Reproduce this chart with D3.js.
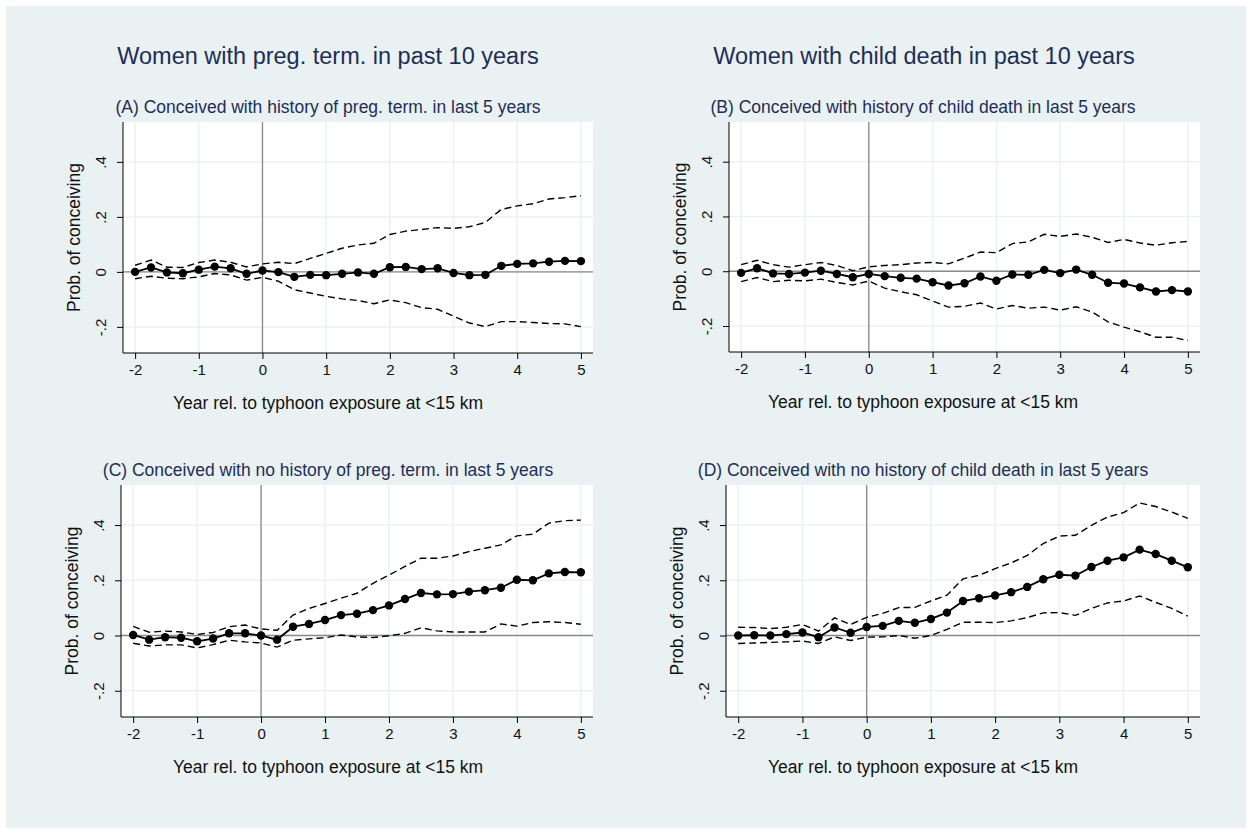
<!DOCTYPE html>
<html>
<head>
<meta charset="utf-8">
<script src="https://cdn.jsdelivr.net/npm/d3@7"></script>
<style>
  body { margin: 0; background: #fff; }
  svg { display: block; font-family: "Liberation Sans", Arial, sans-serif; }
</style>
</head>
<body>
<svg id="chart" width="1252" height="834"></svg>
<script>
// event time, quarters from -2 to 5 years
var years = [-2, -1.75, -1.5, -1.25, -1, -0.75, -0.5, -0.25, 0, 0.25, 0.5, 0.75, 1, 1.25, 1.5,
  1.75, 2, 2.25, 2.5, 2.75, 3, 3.25, 3.5, 3.75, 4, 4.25, 4.5, 4.75, 5];

// (A) history of preg. term.
var estA = [0, 0.016, -0.002, -0.005, 0.008, 0.019, 0.013, -0.007, 0.005, -0.001, -0.018, -0.011, -0.012, -0.007, -0.002,
  -0.007, 0.017, 0.018, 0.010, 0.013, -0.004, -0.012, -0.011, 0.022, 0.029, 0.031, 0.037, 0.040, 0.039];
var hiA = [0.024, 0.043, 0.017, 0.016, 0.034, 0.043, 0.035, 0.018, 0.029, 0.035, 0.030, 0.049, 0.067, 0.086, 0.098,
  0.104, 0.136, 0.148, 0.154, 0.161, 0.158, 0.164, 0.180, 0.227, 0.240, 0.248, 0.265, 0.270, 0.277];
var loA = [-0.025, -0.016, -0.023, -0.025, -0.018, -0.006, -0.011, -0.030, -0.020, -0.034, -0.065, -0.077, -0.089, -0.098, -0.104,
  -0.116, -0.102, -0.112, -0.130, -0.136, -0.161, -0.186, -0.199, -0.181, -0.181, -0.184, -0.188, -0.189, -0.199];

// (B) history of child death
var estB = [-0.006, 0.011, -0.008, -0.010, -0.005, 0.002, -0.010, -0.022, -0.010, -0.018, -0.024, -0.027, -0.040, -0.052, -0.044,
  -0.019, -0.035, -0.012, -0.013, 0.005, -0.007, 0.006, -0.013, -0.042, -0.045, -0.059, -0.074, -0.069, -0.074];
var hiB = [0.024, 0.040, 0.024, 0.015, 0.024, 0.032, 0.021, 0.002, 0.016, 0.021, 0.024, 0.030, 0.032, 0.027, 0.048,
  0.070, 0.068, 0.101, 0.107, 0.135, 0.127, 0.136, 0.124, 0.105, 0.116, 0.103, 0.095, 0.104, 0.109];
var loB = [-0.038, -0.023, -0.038, -0.033, -0.035, -0.029, -0.041, -0.050, -0.036, -0.062, -0.075, -0.086, -0.109, -0.131, -0.128,
  -0.116, -0.138, -0.125, -0.135, -0.131, -0.142, -0.130, -0.149, -0.185, -0.204, -0.221, -0.241, -0.241, -0.253];

// (C) no history of preg. term.
var estC = [0.002, -0.015, -0.006, -0.008, -0.021, -0.011, 0.008, 0.008, 0, -0.015, 0.032, 0.042, 0.056, 0.074, 0.079,
  0.092, 0.109, 0.132, 0.154, 0.149, 0.150, 0.159, 0.164, 0.173, 0.202, 0.200, 0.225, 0.230, 0.229];
var hiC = [0.033, 0.012, 0.016, 0.013, 0.004, 0.011, 0.032, 0.038, 0.024, 0.019, 0.074, 0.098, 0.116, 0.135, 0.153,
  0.189, 0.219, 0.250, 0.280, 0.280, 0.288, 0.304, 0.316, 0.328, 0.361, 0.367, 0.407, 0.416, 0.418];
var loC = [-0.028, -0.038, -0.034, -0.034, -0.045, -0.033, -0.017, -0.023, -0.027, -0.042, -0.017, -0.012, -0.008, 0.002, -0.005,
  -0.007, -0.001, 0.008, 0.028, 0.017, 0.013, 0.013, 0.013, 0.042, 0.034, 0.047, 0.050, 0.047, 0.041];

// (D) no history of child death
var estD = [0, 0.001, 0, 0.005, 0.011, -0.006, 0.029, 0.010, 0.031, 0.035, 0.053, 0.046, 0.060, 0.083, 0.125,
  0.135, 0.145, 0.157, 0.176, 0.204, 0.220, 0.217, 0.248, 0.271, 0.283, 0.311, 0.295, 0.271, 0.247];
var hiD = [0.030, 0.029, 0.025, 0.030, 0.040, 0.016, 0.064, 0.040, 0.066, 0.080, 0.101, 0.102, 0.125, 0.146, 0.205,
  0.218, 0.242, 0.263, 0.290, 0.333, 0.360, 0.363, 0.399, 0.429, 0.445, 0.480, 0.467, 0.447, 0.424];
var loD = [-0.029, -0.027, -0.025, -0.023, -0.020, -0.029, -0.005, -0.018, -0.006, -0.005, 0, -0.010, 0, 0.022, 0.048,
  0.048, 0.047, 0.053, 0.065, 0.082, 0.083, 0.073, 0.098, 0.118, 0.125, 0.143, 0.120, 0.098, 0.070];

var colTitles = ["Women with preg. term. in past 10 years", "Women with child death in past 10 years"];
var subtitles = ["(A) Conceived with history of preg. term. in last 5 years",
  "(B) Conceived with history of child death in last 5 years",
  "(C) Conceived with no history of preg. term. in last 5 years",
  "(D) Conceived with no history of child death in last 5 years"];
var xTicks = [-2, -1, 0, 1, 2, 3, 4, 5];
var yTicks = [-0.2, 0, 0.2, 0.4];
var xTitle = "Year rel. to typhoon exposure at <15 km";
var yTitle = "Prob. of conceiving";

var panels = [
  {est: estA, lo: loA, hi: hiA, x0: 123, x1: 593, y0: 122, y1: 353},
  {est: estB, lo: loB, hi: hiB, x0: 729, x1: 1200, y0: 122, y1: 352},
  {est: estC, lo: loC, hi: hiC, x0: 121, x1: 593, y0: 485, y1: 717},
  {est: estD, lo: loD, hi: hiD, x0: 726, x1: 1200, y0: 485, y1: 717}
];

var bg = "#e9f1f3";
var navy = "#1f2e55";
var ink = "#111";
var svg = d3.select("#chart");
svg.append("rect").attr("x", 6).attr("y", 6).attr("width", 1240).attr("height", 822).attr("fill", bg);

// column titles
[328, 924].forEach(function(cx, i) {
  svg.append("text").attr("x", cx).attr("y", 64).attr("text-anchor", "middle")
    .style("font-size", "23.5px").style("fill", navy).text(colTitles[i]);
});

var hyphen = function(s) { return s.replace("\u2212", "-") };

panels.forEach(function(p, i) {
  var x = d3.scaleLinear().domain([-2.19, 5.19]).range([p.x0, p.x1]);
  var y = d3.scaleLinear().domain([-0.295, 0.545]).range([p.y1, p.y0]);
  var g = svg.append("g");
  var cx = (i % 2 == 0) ? 328 : 923;

  g.append("text").attr("x", cx).attr("y", p.y0 - 9).attr("text-anchor", "middle")
    .style("font-size", "17.5px").style("fill", navy).text(subtitles[i]);

  g.append("rect").attr("x", p.x0).attr("y", p.y0)
    .attr("width", p.x1 - p.x0).attr("height", p.y1 - p.y0).attr("fill", "#fff");

  // grid
  g.selectAll(".gx").data(xTicks).enter().append("line")
    .attr("x1", function(d) { return x(d) }).attr("x2", function(d) { return x(d) })
    .attr("y1", p.y0).attr("y2", p.y1).attr("stroke", "#eaf2f3").attr("stroke-width", 1.5);
  g.selectAll(".gy").data(yTicks).enter().append("line")
    .attr("x1", p.x0).attr("x2", p.x1)
    .attr("y1", function(d) { return y(d) }).attr("y2", function(d) { return y(d) })
    .attr("stroke", "#eaf2f3").attr("stroke-width", 1.5);

  // reference lines
  g.append("line").attr("x1", p.x0).attr("x2", p.x1).attr("y1", y(0)).attr("y2", y(0))
    .attr("stroke", "#8a8a8a").attr("stroke-width", 1.3);
  g.append("line").attr("x1", x(0)).attr("x2", x(0)).attr("y1", p.y0).attr("y2", p.y1)
    .attr("stroke", "#8a8a8a").attr("stroke-width", 1.3);

  // axes
  var xAxis = d3.axisBottom(x).tickValues(xTicks).tickSize(6).tickPadding(5)
    .tickFormat(function(d) { return hyphen(d3.format("d")(d)) });
  var gx = g.append("g").attr("transform", "translate(0," + p.y1 + ")").call(xAxis);
  gx.select(".domain").attr("d", "M" + p.x0 + ",0H" + p.x1).attr("stroke", "#000");
  gx.selectAll("text").style("font-size", "15px").style("fill", ink).attr("font-family", null);

  var yAxis = d3.axisLeft(y).tickValues(yTicks).tickSize(6)
    .tickFormat(function(d) { return d == 0 ? "0" : hyphen(d3.format(".1f")(d)).replace("0.", ".") });
  var gy = g.append("g").attr("transform", "translate(" + p.x0 + ",0)").call(yAxis);
  gy.select(".domain").attr("d", "M0," + p.y0 + "V" + p.y1).attr("stroke", "#000");
  gy.selectAll("text").attr("x", null).attr("dy", null)
    .attr("transform", "translate(-17,0) rotate(-90)")
    .attr("text-anchor", "middle")
    .style("font-size", "15px").style("fill", ink).attr("font-family", null);

  g.append("text").attr("x", cx).attr("y", p.y1 + 56).attr("text-anchor", "middle")
    .style("font-size", "17.5px").style("fill", ink).text(xTitle);
  g.append("text")
    .attr("transform", "translate(" + (p.x0 - 43) + "," + ((p.y0 + p.y1) / 2) + ") rotate(-90)")
    .attr("text-anchor", "middle").style("font-size", "17.5px").style("fill", ink).text(yTitle);

  // CI bands and estimate
  var line = function(arr) {
    return d3.line().x(function(d, k) { return x(years[k]) }).y(function(d) { return y(d) })(arr);
  };
  [p.lo, p.hi].forEach(function(arr) {
    g.append("path").attr("d", line(arr)).attr("fill", "none")
      .attr("stroke", "#000").attr("stroke-width", 1.4).attr("stroke-dasharray", "7,4");
  });
  g.append("path").attr("d", line(p.est)).attr("fill", "none")
    .attr("stroke", "#000").attr("stroke-width", 1.8);
  g.selectAll(".pt").data(p.est).enter().append("circle")
    .attr("cx", function(d, k) { return x(years[k]) })
    .attr("cy", function(d) { return y(d) })
    .attr("r", 4.2).attr("fill", "#000");
});
</script>
</body>
</html>
